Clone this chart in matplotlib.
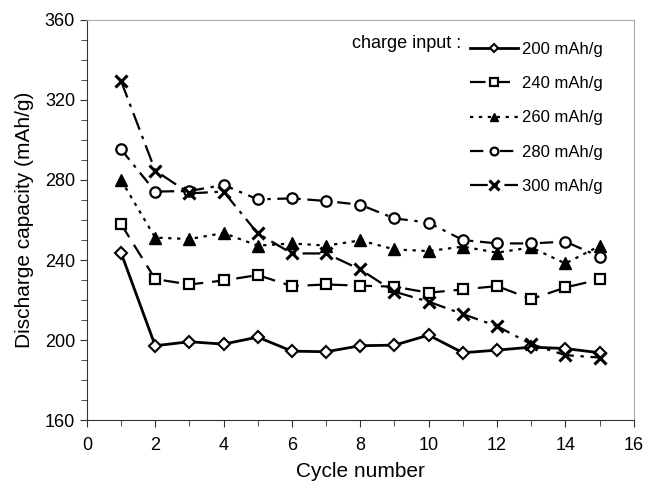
import numpy as np
import matplotlib
matplotlib.use("Agg")
import matplotlib.pyplot as plt
from matplotlib.ticker import MultipleLocator

plt.rcParams['font.family'] = ['Liberation Sans', 'DejaVu Sans']

cycles = np.arange(1, 16)
cap_200 = [243.7, 197.2, 199.2, 198.0, 201.5, 194.5, 194.2, 197.2, 197.5, 202.5, 193.7, 195.0, 196.5, 195.8, 193.7]
cap_240 = [258.0, 230.5, 227.8, 229.8, 232.5, 227.0, 227.8, 227.2, 226.7, 223.7, 225.3, 227.0, 220.5, 226.3, 230.3]
cap_260 = [280.0, 251.2, 250.5, 253.5, 247.2, 248.3, 247.2, 249.8, 245.3, 244.5, 246.7, 243.7, 246.3, 238.3, 247.0]
cap_280 = [295.3, 274.2, 274.5, 277.5, 270.3, 270.8, 269.5, 267.6, 260.8, 258.7, 250.0, 248.3, 248.3, 249.2, 241.7]
cap_300 = [329.5, 284.7, 273.3, 274.2, 253.3, 243.3, 243.3, 235.3, 224.2, 219.2, 213.0, 207.0, 198.0, 192.5, 191.3]
labels = ['200 mAh/g', '240 mAh/g', '260 mAh/g', '280 mAh/g', '300 mAh/g']

fig = plt.figure(figsize=(6.48, 4.83), dpi=100)
ax = fig.add_axes([0.134, 0.130, 0.844, 0.829])

lw = 1.6
ax.plot(cycles, cap_200, color='black', lw=2.0, linestyle='-', marker='D', ms=6,
        mfc='white', mec='black', mew=1.5, label=labels[0])
ax.plot(cycles, cap_240, color='black', lw=lw, linestyle=(0, (7, 4)), marker='s', ms=7,
        mfc='white', mec='black', mew=1.6, label=labels[1])
ax.plot(cycles, cap_260, color='black', lw=lw, linestyle=(0, (1.5, 2.5)), marker='^', ms=8.5,
        mfc='black', mec='black', label=labels[2])
ax.plot(cycles, cap_280, color='black', lw=lw, linestyle=(0, (6, 3, 1.5, 3)), marker='o', ms=7.5,
        mfc='white', mec='black', mew=1.6, label=labels[3])
ax.plot(cycles, cap_300, color='black', lw=lw, linestyle=(0, (8, 3, 1.5, 3)), marker='x', ms=9,
        mec='black', mew=2.2, label=labels[4])

ax.set_xlim(0, 16)
ax.set_ylim(160, 360)
ax.xaxis.set_major_locator(MultipleLocator(2))
ax.xaxis.set_minor_locator(MultipleLocator(1))
ax.yaxis.set_major_locator(MultipleLocator(40))
ax.yaxis.set_minor_locator(MultipleLocator(10))
ax.tick_params(which='both', direction='out', labelsize=13, color='#333333')
ax.tick_params(which='major', length=5)
ax.tick_params(which='minor', length=4)
ax.tick_params(axis='x', pad=7)

for side in ['top', 'right']:
    ax.spines[side].set_color('#aaaaaa')
for side in ['left', 'bottom']:
    ax.spines[side].set_color('#333333')

ax.set_xlabel('Cycle number', fontsize=15, labelpad=6)
ax.set_ylabel('Discharge capacity (mAh/g)', fontsize=15, labelpad=8)

leg = ax.legend(loc='upper right', bbox_to_anchor=(0.943, 0.945), frameon=False, fontsize=12,
                handlelength=2.9, labelspacing=1.16, handletextpad=0.2, borderpad=0,
                borderaxespad=0, markerscale=0.75)
ax.text(0.4845, 0.942, 'charge input :', transform=ax.transAxes, fontsize=13, ha='left', va='center')

fig.savefig('out.png', dpi=100)
